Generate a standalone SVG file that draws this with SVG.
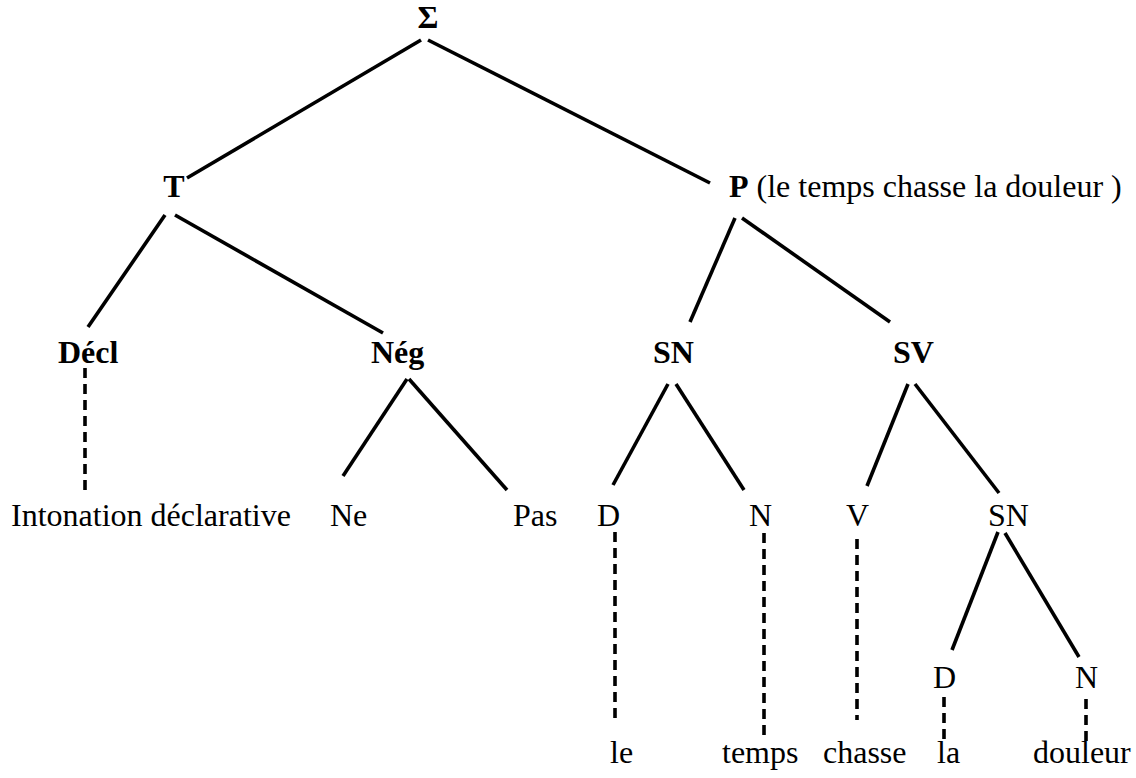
<svg xmlns="http://www.w3.org/2000/svg" width="1136" height="778" viewBox="0 0 1136 778">
<style>
text{font-family:"Liberation Serif","Times New Roman",serif;font-size:32px;fill:#000}
.b{font-weight:bold}
.s{stroke:#000;stroke-width:3.6;fill:none}
.d{stroke:#000;stroke-width:3.6;fill:none;stroke-dasharray:10 6}
</style>
<rect width="1136" height="778" fill="#fff"/>
<g id="connectors">
<line class="s" x1="421" y1="40" x2="187" y2="178"/>
<line class="s" x1="428" y1="40" x2="710" y2="183"/>
<line class="s" x1="165" y1="215" x2="88" y2="327"/>
<line class="s" x1="175" y1="215" x2="383" y2="333"/>
<line class="s" x1="735" y1="218" x2="690" y2="322"/>
<line class="s" x1="742" y1="218" x2="890" y2="322"/>
<line class="d" x1="85" y1="368" x2="85" y2="495"/>
<line class="s" x1="407" y1="379" x2="343" y2="476"/>
<line class="s" x1="409" y1="379" x2="507" y2="490"/>
<line class="s" x1="668" y1="384" x2="613" y2="485"/>
<line class="s" x1="676" y1="384" x2="744" y2="490"/>
<line class="s" x1="908" y1="384" x2="867" y2="486"/>
<line class="s" x1="915" y1="384" x2="999" y2="493"/>
<line class="d" x1="615" y1="532" x2="615" y2="718"/>
<line class="d" x1="764" y1="533" x2="764" y2="738"/>
<line class="d" x1="857" y1="539" x2="857" y2="720"/>
<line class="s" x1="998" y1="532" x2="952" y2="650"/>
<line class="s" x1="1005" y1="533" x2="1079" y2="657"/>
<line class="d" x1="944" y1="697" x2="944" y2="742"/>
<line class="d" x1="1086" y1="699" x2="1086" y2="745"/>
</g>
<g id="sigma"><text class="b" x="428" y="28" text-anchor="middle">Σ</text></g>
<g id="T"><text class="b" x="174" y="197" text-anchor="middle">T</text></g>
<g id="P"><text x="729" y="197"><tspan class="b">P</tspan> (le temps chasse la douleur )</text></g>
<g id="Decl"><text class="b" x="58" y="363">Décl</text></g>
<g id="Neg"><text class="b" x="371" y="363">Nég</text></g>
<g id="SN1"><text class="b" x="653" y="363">SN</text></g>
<g id="SV"><text class="b" x="893" y="363">SV</text></g>
<g id="intonation"><text x="11" y="526">Intonation déclarative</text></g>
<g id="Ne"><text x="330" y="526">Ne</text></g>
<g id="Pas"><text x="513" y="526">Pas</text></g>
<g id="D1"><text x="597" y="526">D</text></g>
<g id="N1"><text x="749" y="526">N</text></g>
<g id="V"><text x="846" y="526">V</text></g>
<g id="SN2"><text x="988" y="526">SN</text></g>
<g id="D2"><text x="933" y="688">D</text></g>
<g id="N2"><text x="1075" y="688">N</text></g>
<g id="le"><text x="610" y="763">le</text></g>
<g id="temps"><text x="722" y="763">temps</text></g>
<g id="chasse"><text x="823" y="763">chasse</text></g>
<g id="la"><text x="937" y="763">la</text></g>
<g id="douleur"><text x="1033" y="763">douleur</text></g>
</svg>
